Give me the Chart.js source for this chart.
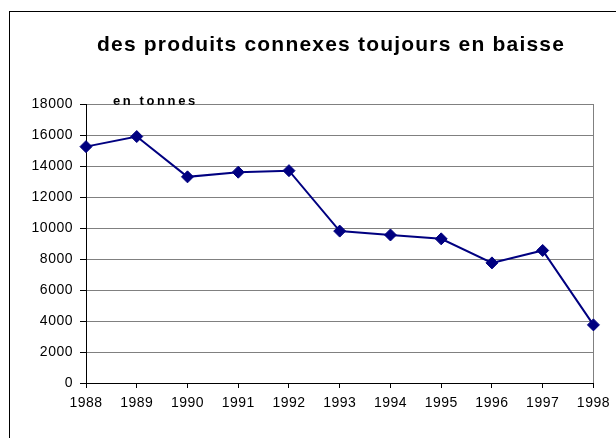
<!DOCTYPE html>
<html>
<head>
<meta charset="utf-8">
<script src="https://cdn.jsdelivr.net/npm/chart.js@4/dist/chart.umd.min.js"></script>
<style>
  html, body { margin: 0; padding: 0; background: #fff; }
  #wrap { position: relative; width: 616px; height: 438px; }
  canvas { display: block; }
</style>
</head>
<body>
<div id="wrap"><canvas id="c" width="616" height="438"></canvas></div>
<script>
// ---- data ----
const years = ['1988','1989','1990','1991','1992','1993','1994','1995','1996','1997','1998'];
const tonnes = [15250, 15900, 13300, 13600, 13700, 9800, 9550, 9300, 7750, 8550, 3750];
const chartTitle = 'des produits connexes toujours en baisse';
const unitLabel = 'en tonnes';
const yMin = 0, yMax = 18000, yStep = 2000;

const FONT = '"Liberation Sans", Arial, sans-serif';

const decor = {
  id: 'decor',
  beforeDraw(chart) {
    const ctx = chart.ctx;
    ctx.save();
    ctx.fillStyle = '#fff';
    ctx.fillRect(0, 0, chart.width, chart.height);
    // outer frame (left and top edges visible)
    ctx.fillStyle = '#000';
    ctx.fillRect(9, 11, 1, chart.height);
    ctx.fillRect(9, 11, chart.width, 1);
    ctx.restore();
    // slight letter spacing for tick labels
    ctx.letterSpacing = '0.5px';
  },
  afterDraw(chart) {
    const ctx = chart.ctx;
    ctx.save();
    ctx.fillStyle = '#000';
    ctx.textBaseline = 'alphabetic';
    ctx.textAlign = 'left';
    ctx.font = 'bold 21px ' + FONT;
    ctx.letterSpacing = '1.2px';
    ctx.fillText(chartTitle, 97, 51);
    ctx.font = 'bold 13px ' + FONT;
    ctx.letterSpacing = '2.6px';
    ctx.fillText(unitLabel, 113, 105);
    ctx.restore();
  }
};

new Chart(document.getElementById('c'), {
  type: 'line',
  data: {
    labels: years,
    datasets: [{
      data: tonnes,
      borderColor: '#000080',
      backgroundColor: '#000080',
      borderWidth: 2,
      pointStyle: 'rectRot',
      pointRadius: 6,
      pointBorderWidth: 1,
      pointBorderColor: '#000080',
      pointBackgroundColor: '#000080',
      tension: 0,
      fill: false,
      clip: false
    }]
  },
  options: {
    responsive: false,
    animation: false,
    devicePixelRatio: 1,
    layout: { padding: { top: 104, right: 19, bottom: 0, left: 0 } },
    plugins: { legend: { display: false }, title: { display: false }, tooltip: { enabled: false } },
    scales: {
      x: {
        type: 'category',
        offset: false,
        afterFit(s) { s.height = 55; },
        grid: {
          color: (c) => (c.index === years.length - 1 ? '#808080' : 'rgba(0,0,0,0)'),
          tickColor: '#000',
          tickLength: 5,
          lineWidth: 1
        },
        border: { color: '#000', width: 1 },
        ticks: {
          color: '#000',
          font: { family: FONT, size: 14 },
          padding: 7,
          maxRotation: 0,
          autoSkip: false
        }
      },
      y: {
        min: yMin,
        max: yMax,
        afterFit(s) { s.width = 86; },
        grid: {
          color: '#808080',
          tickColor: '#000',
          tickLength: 6,
          lineWidth: 1
        },
        border: { color: '#000', width: 1 },
        ticks: {
          stepSize: yStep,
          color: '#000',
          font: { family: FONT, size: 14 },
          padding: 7,
          callback: (v) => String(v)
        }
      }
    }
  },
  plugins: [decor]
});
</script>
</body>
</html>
